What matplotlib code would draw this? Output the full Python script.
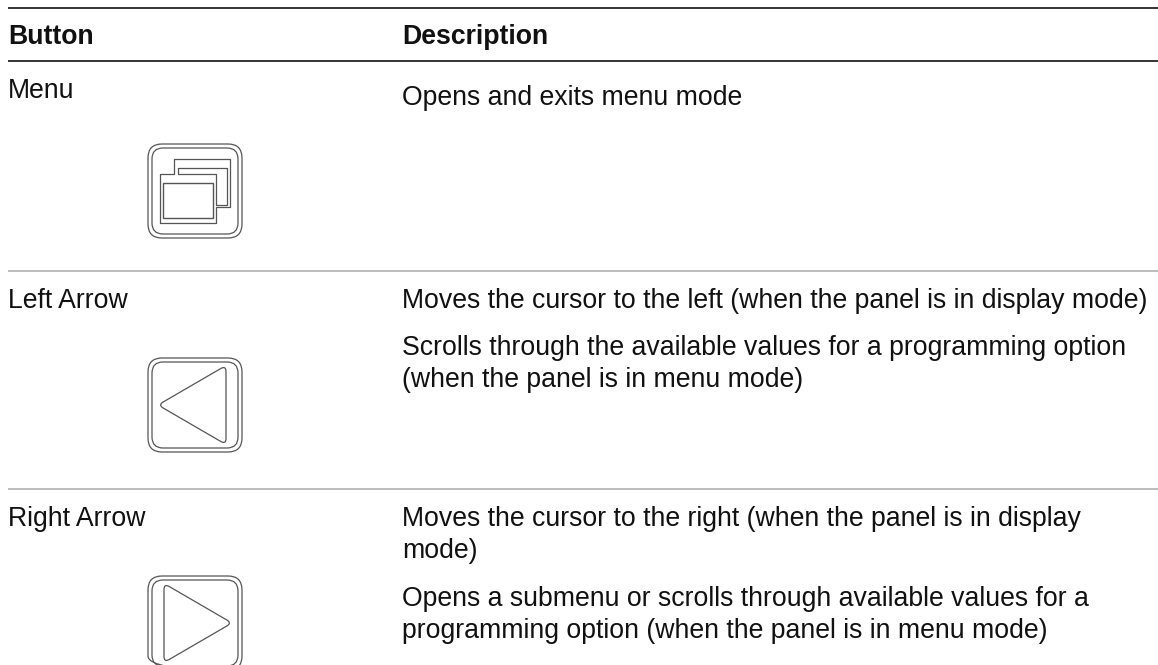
import matplotlib
matplotlib.use("Agg")
import matplotlib.pyplot as plt
import numpy as np
from matplotlib.path import Path
from matplotlib.patches import FancyBboxPatch, PathPatch, Polygon

plt.rcParams["font.family"] = ["Liberation Sans", "DejaVu Sans"]

# Table text
headers = ["Button", "Description"]
buttons = ["Menu", "Left Arrow", "Right Arrow"]
descriptions = [
    ["Opens and exits menu mode"],
    ["Moves the cursor to the left (when the panel is in display mode)",
     "Scrolls through the available values for a programming option\n(when the panel is in menu mode)"],
    ["Moves the cursor to the right (when the panel is in display\nmode)",
     "Opens a submenu or scrolls through available values for a\nprogramming option (when the panel is in menu mode)"],
]

# Layout, in pixels of the 1158x665 page
col_x = [8, 402]
header_y = 44
button_y = [98, 308, 526]
desc_y = [[105], [308, 355], [526, 606]]
rule_y = [7.5, 61, 271, 489]
rule_col = ["#333333", "#333333", "#aaaaaa", "#aaaaaa"]
icon_top = [144, 358, 576]
ink = "#555555"
size = 19.2
line_h = 32

fig = plt.figure(figsize=(11.58, 6.65), dpi=100)
ax = fig.add_axes([0, 0, 1, 1])
ax.set_xlim(0, 1158)
ax.set_ylim(665, 0)
ax.axis("off")

# rules
for y, c in zip(rule_y, rule_col):
    ax.plot([8, 1158], [y, y], color=c, lw=1.4 if c == "#333333" else 1.1, solid_capstyle="butt")

# text
ax.text(col_x[0], header_y, headers[0], fontsize=size, fontweight="bold", color="#111111", va="baseline")
ax.text(col_x[1], header_y, headers[1], fontsize=size, fontweight="bold", color="#111111", va="baseline")
for name, y in zip(buttons, button_y):
    ax.text(col_x[0], y, name, fontsize=size, color="#111111", va="baseline")
for paras, ys in zip(descriptions, desc_y):
    for para, y in zip(paras, ys):
        for i, line in enumerate(para.split("\n")):
            ax.text(col_x[1], y + i * line_h, line, fontsize=size, color="#111111", va="baseline")


def box(x0, y0, x1, y1, r):
    p = FancyBboxPatch((x0 + r, y0 + r), x1 - x0 - 2 * r, y1 - y0 - 2 * r,
                       boxstyle=f"round,pad={r},rounding_size={r}",
                       fc="none", ec=ink, lw=0.9)
    ax.add_patch(p)


def frame(top):
    box(148, top, 242, top + 94, 14)
    box(152, top + 4, 238, top + 90, 11)


def outline(pts):
    ax.add_patch(Polygon(pts, closed=True, fc="none", ec=ink, lw=0.9, joinstyle="round"))


def rounded_triangle(pts, d=6):
    # triangle with each corner cut by a small curve
    pts = [np.array(p, dtype=float) for p in pts]
    verts, codes = [], []
    for i, p in enumerate(pts):
        prev = pts[i - 1]
        nxt = pts[(i + 1) % 3]
        a = p + (prev - p) / np.linalg.norm(prev - p) * d
        b = p + (nxt - p) / np.linalg.norm(nxt - p) * d
        verts += [a, p, b]
        codes += [Path.MOVETO if i == 0 else Path.LINETO, Path.CURVE3, Path.CURVE3]
    verts.append(verts[0])
    codes.append(Path.CLOSEPOLY)
    ax.add_patch(PathPatch(Path(verts, codes), fc="none", ec=ink, lw=0.9))


# Menu icon
frame(icon_top[0])
t = icon_top[0]
outline([(174, t + 15), (230, t + 15), (230, t + 63), (216, t + 63), (216, t + 79),
         (160, t + 79), (160, t + 30), (174, t + 30)])
outline([(178, t + 24), (178, t + 30), (216, t + 30), (216, t + 61), (227, t + 61), (227, t + 24)])
ax.add_patch(plt.Rectangle((163, t + 39), 50, 35, fc="none", ec=ink, lw=1.0))

# Left arrow icon
frame(icon_top[1])
t = icon_top[1]
rounded_triangle([(158, t + 47), (226, t + 7.5), (226, t + 86.5)])

# Right arrow icon
frame(icon_top[2])
t = icon_top[2]
rounded_triangle([(232, t + 47), (164, t + 7.5), (164, t + 86.5)])

fig.savefig("out.png", dpi=100)
